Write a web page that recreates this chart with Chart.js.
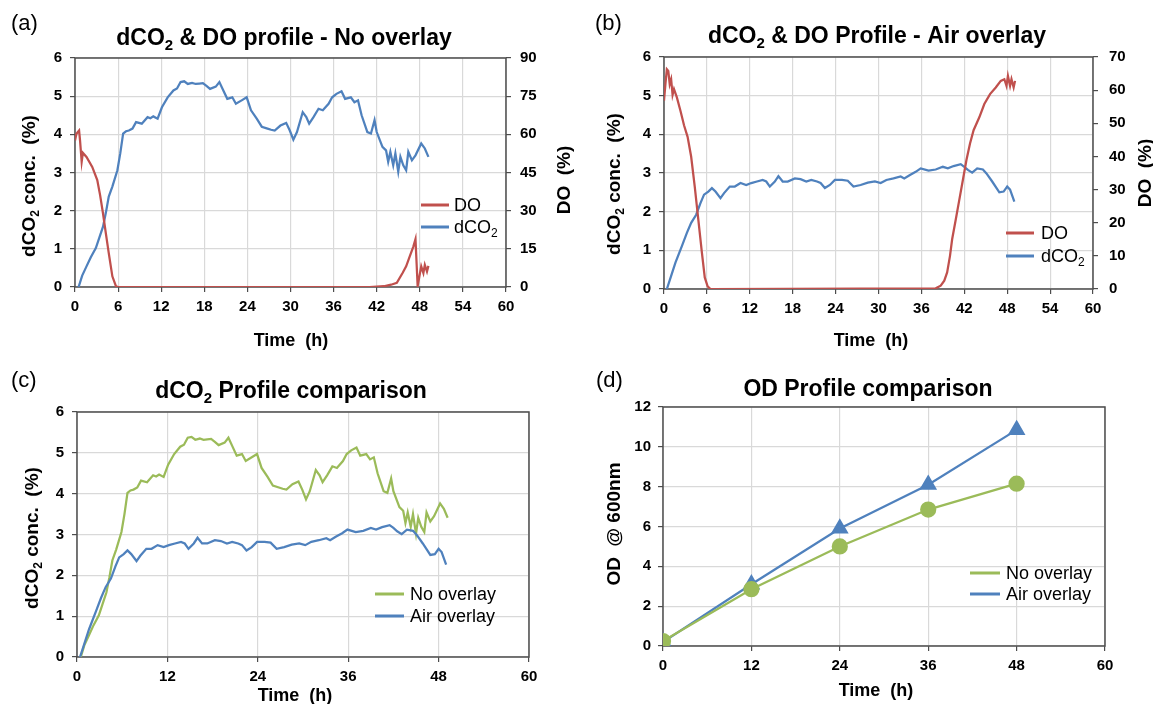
<!DOCTYPE html>
<html>
<head>
<meta charset="UTF-8">
<title>dCO2 / DO / OD profiles</title>
<script src="https://cdn.jsdelivr.net/npm/chart.js@4.4.1/dist/chart.umd.min.js"></script>
<style>
  body { margin: 0; background: #fff; }
  #wrap { position: relative; width: 1153px; height: 704px; overflow: hidden; }
  canvas { position: absolute; }
</style>
</head>
<body>
<div id="wrap">
  <canvas id="chA" width="580" height="352" style="left:0;top:0;width:580px;height:352px"></canvas>
  <canvas id="chB" width="573" height="352" style="left:580px;top:0;width:573px;height:352px"></canvas>
  <canvas id="chC" width="580" height="352" style="left:0;top:352px;width:580px;height:352px"></canvas>
  <canvas id="chD" width="573" height="352" style="left:580px;top:352px;width:573px;height:352px"></canvas>
</div>
<script>
// ---- data: [time (h), value] ----
// no overlay run: dCO2 (%) and DO (%)
var noOverlayCO2 = [[0.5,0],[1.0,0.3],[1.6,0.54],[2.2,0.78],[2.9,1.02],[3.4,1.3],[3.9,1.58],[4.3,1.95],
  [4.7,2.37],[5.2,2.63],[5.9,3.06],[6.3,3.5],[6.7,4.02],[7.1,4.08],[7.5,4.1],[8.0,4.15],[8.5,4.32],
  [9.3,4.28],[10.1,4.45],[10.5,4.42],[10.9,4.47],[11.5,4.41],[12.1,4.71],[12.9,4.97],[13.7,5.15],
  [14.2,5.2],[14.7,5.37],[15.2,5.39],[15.7,5.32],[16.3,5.35],[16.8,5.32],[17.3,5.33],[17.8,5.34],
  [18.3,5.27],[18.8,5.19],[19.6,5.25],[20.1,5.37],[20.6,5.17],[21.2,4.93],[21.9,4.97],[22.4,4.8],
  [23.2,4.89],[23.9,4.97],[24.5,4.63],[25.3,4.41],[26.0,4.2],[26.8,4.15],[27.3,4.12],[27.8,4.1],
  [28.6,4.23],[29.4,4.3],[29.9,4.1],[30.4,3.86],[30.9,4.06],[31.7,4.58],[32.2,4.45],[32.6,4.28],
  [33.2,4.45],[33.9,4.67],[34.5,4.63],[35.3,4.8],[35.8,4.97],[36.4,5.06],[37.1,5.13],[37.6,4.93],
  [38.4,4.97],[38.9,4.84],[39.4,4.89],[39.9,4.5],[40.7,4.06],[41.2,4.02],[41.7,4.37],[42.0,4.06],
  [42.8,3.67],[43.3,3.58],[43.6,3.28],[43.9,3.54],[44.3,3.19],[44.6,3.5],[45.0,3.02],[45.3,3.41],
  [45.7,3.19],[46.1,3.06],[46.4,3.54],[46.9,3.32],[47.4,3.45],[48.2,3.76],[48.7,3.63],[49.2,3.41]];
var noOverlayDO = [[0,57.6],[0.2,60.2],[0.4,60.9],[0.57,61.5],[0.7,57.6],[0.93,49.2],[1.1,52.7],
  [1.6,51.1],[2.4,47.2],[3.1,42],[3.5,36],[3.9,28.9],[4.3,21],[4.7,13.3],[5.2,4.2],[5.7,0.3],[6,0],
  [41,0],[43,0.3],[44,0.9],[44.8,1.6],[45.6,5.5],[46.1,8.1],[46.6,12],[47.1,15.9],[47.4,18.8],
  [47.7,0.3],[47.9,3.5],[48.2,8.1],[48.5,5.5],[48.7,8.7],[49.0,6.1],[49.2,8.3]];

// air overlay run: dCO2 (%) and DO (%)
var airOverlayCO2 = [[0.4,0],[1.0,0.34],[1.6,0.68],[2.5,1.11],[3.2,1.45],[3.8,1.71],[4.5,1.92],
  [5.1,2.22],[5.6,2.44],[6.2,2.52],[6.7,2.61],[7.2,2.52],[7.9,2.35],[8.4,2.48],[9.2,2.65],[9.9,2.65],
  [10.7,2.74],[11.5,2.69],[12.2,2.74],[13.0,2.78],[13.8,2.82],[14.3,2.78],[14.8,2.65],[15.5,2.78],
  [16.0,2.92],[16.6,2.78],[17.3,2.78],[18.3,2.86],[19.1,2.84],[19.9,2.78],[20.6,2.82],[21.4,2.78],
  [21.9,2.74],[22.5,2.61],[23.2,2.69],[23.9,2.82],[24.9,2.82],[25.7,2.8],[26.5,2.65],[27.5,2.69],
  [28.5,2.75],[29.5,2.78],[30.3,2.74],[31.1,2.82],[32.1,2.86],[33.1,2.91],[33.6,2.86],[34.4,2.95],
  [35.2,3.03],[35.9,3.12],[37.0,3.06],[38.0,3.09],[39.0,3.16],[39.7,3.12],[40.5,3.18],[41.5,3.23],
  [42.0,3.16],[42.5,3.08],[43.1,3.01],[43.8,3.12],[44.6,3.09],[45.1,2.99],[45.9,2.78],[46.9,2.5],
  [47.5,2.52],[48.0,2.65],[48.4,2.57],[49.0,2.26]];
var airOverlayDO = [[0,56.8],[0.2,61.8],[0.4,66.3],[0.6,65.8],[0.8,61.8],[1.0,63.3],[1.2,58.6],
  [1.4,60.3],[1.8,57.8],[2.3,53.8],[2.8,49.4],[3.3,45.9],[3.8,39.9],[4.3,30.9],[4.8,20.9],[5.3,11],
  [5.7,3.5],[6.1,0.8],[6.5,0],[38,0.2],[38.7,1],[39.2,2.5],[39.6,5],[40.0,10],[40.3,15],[40.8,20.9],
  [41.3,26.9],[41.8,32.9],[42.3,38.9],[42.8,43.9],[43.3,47.9],[44.1,51.8],[44.8,55.8],[45.6,58.8],
  [46.4,60.8],[47.1,62.8],[47.6,63.3],[47.9,61.3],[48.1,64.3],[48.4,61.3],[48.6,63.3],[48.9,60.8],
  [49.1,62.8]];

// OD @ 600nm samples
var odTime = [0, 12, 24, 36, 48];
var odNoOverlay = [0.25, 2.85, 5.0, 6.85, 8.15];
var odAirOverlay = [0.2, 3.1, 5.9, 8.1, 10.85];

// ---- styling ----
var FONT = '"Liberation Sans", Arial, sans-serif';
var RED = '#C0504D', BLUE = '#4F81BD', GREEN = '#9BBB59';
var GRID = '#d9d9d9', AXIS = '#4d4d4d';

function xy(pairs) { return pairs.map(function (p) { return {x: p[0], y: p[1]}; }); }
function zip(xs, ys) { return xs.map(function (x, i) { return {x: x, y: ys[i]}; }); }

function tickFont() { return {family: FONT, size: 15, weight: 'bold'}; }

function xAxis(step, h) {
  return {
    type: 'linear', position: 'bottom', min: 0, max: 60,
    ticks: {stepSize: step, autoSkip: false, maxRotation: 0, color: '#000', padding: 6, font: tickFont()},
    grid: {color: GRID, lineWidth: 1.2, tickColor: AXIS, tickLength: 5},
    border: {display: false},
    afterFit: function (s) { s.height = h; }
  };
}
function yAxis(pos, max, step, w, pad, onArea) {
  return {
    type: 'linear', position: pos, min: 0, max: max,
    ticks: {stepSize: step, color: '#000', padding: pad, font: tickFont()},
    grid: {color: GRID, lineWidth: 1.2, tickColor: AXIS, tickLength: 5, drawOnChartArea: onArea},
    border: {display: false},
    afterFit: function (s) { s.width = w; }
  };
}

function fontStr(size, weight) { return weight + ' ' + size + 'px ' + FONT; }

// parts: [[text], [text, isSub], ...]
function drawRich(ctx, parts, x, y, size, weight, align, rot) {
  var sub = Math.round(size * 0.65), w = 0;
  parts.forEach(function (p) {
    ctx.font = fontStr(p[1] ? sub : size, weight);
    w += ctx.measureText(p[0]).width;
  });
  ctx.save();
  ctx.translate(x, y);
  if (rot) ctx.rotate(rot);
  ctx.textAlign = 'left';
  ctx.textBaseline = 'alphabetic';
  ctx.fillStyle = '#000';
  var cx = align === 'left' ? 0 : -w / 2;
  parts.forEach(function (p) {
    ctx.font = fontStr(p[1] ? sub : size, weight);
    ctx.fillText(p[0], cx, size * 0.36 + (p[1] ? size * 0.22 : 0));
    cx += ctx.measureText(p[0]).width;
  });
  ctx.restore();
}

// frame + texts + legend, given in page coordinates
function deco(cfg) {
  return {
    id: 'deco',
    beforeDatasetsDraw: function (chart) {
      var a = chart.chartArea, ctx = chart.ctx;
      ctx.save();
      ctx.strokeStyle = AXIS;
      ctx.lineWidth = 1.5;
      ctx.strokeRect(a.left, a.top, a.right - a.left, a.bottom - a.top);
      ctx.restore();
    },
    afterDraw: function (chart) {
      var ctx = chart.ctx, ox = cfg.ox, oy = cfg.oy;
      cfg.texts.forEach(function (t) {
        drawRich(ctx, t.parts, t.x - ox, t.y - oy, t.size, t.weight || 'bold', t.align, t.rot);
      });
      var L = cfg.legend;
      L.items.forEach(function (it, i) {
        var y = L.y[i] - oy;
        ctx.save();
        ctx.strokeStyle = it.color;
        ctx.lineWidth = 3;
        ctx.beginPath();
        ctx.moveTo(L.x1 - ox, y);
        ctx.lineTo(L.x2 - ox, y);
        ctx.stroke();
        ctx.restore();
        drawRich(ctx, it.parts, L.tx - ox, y, 18, 'normal', 'left');
      });
    }
  };
}

function lineSet(label, data, color, axis) {
  return {label: label, data: data, yAxisID: axis || 'y', borderColor: color, backgroundColor: color,
    borderWidth: 2.25, pointRadius: 0, tension: 0, fill: false};
}

function baseOptions(pad) {
  return {
    responsive: false, animation: false, events: [],
    layout: {padding: pad},
    plugins: {legend: {display: false}, title: {display: false}, tooltip: {enabled: false}}
  };
}

var CO2 = [['dCO'], ['2', 1]];

// (a) no overlay
var optA = baseOptions({top: 58, left: 0, right: 0, bottom: 0});
optA.scales = {x: xAxis(6, 65), y: yAxis('left', 6, 1, 75, 8, true), y2: yAxis('right', 90, 15, 74, 9, false)};
new Chart(document.getElementById('chA'), {
  type: 'line',
  data: {datasets: [lineSet('DO', xy(noOverlayDO), RED, 'y2'), lineSet('dCO2', xy(noOverlayCO2), BLUE)]},
  options: optA,
  plugins: [deco({
    ox: 0, oy: 0,
    texts: [
      {parts: [['(a)']], x: 11, y: 22, size: 22, weight: 'normal', align: 'left'},
      {parts: CO2.concat([[' & DO profile - No overlay']]), x: 284, y: 37, size: 23},
      {parts: CO2.concat([[' conc.  (%)']]), x: 28, y: 186, size: 19, rot: -Math.PI / 2},
      {parts: [['DO  (%)']], x: 563, y: 180, size: 19, rot: -Math.PI / 2},
      {parts: [['Time  (h)']], x: 291, y: 340, size: 18}
    ],
    legend: {x1: 421, x2: 449, tx: 454, y: [205, 227],
      items: [{color: RED, parts: [['DO']]}, {color: BLUE, parts: CO2}]}
  })]
});

// (b) air overlay
var optB = baseOptions({top: 57, left: 0, right: 0, bottom: 0});
optB.scales = {x: xAxis(6, 63), y: yAxis('left', 6, 1, 84, 8, true), y2: yAxis('right', 70, 10, 60, 11, false)};
new Chart(document.getElementById('chB'), {
  type: 'line',
  data: {datasets: [lineSet('DO', xy(airOverlayDO), RED, 'y2'), lineSet('dCO2', xy(airOverlayCO2), BLUE)]},
  options: optB,
  plugins: [deco({
    ox: 580, oy: 0,
    texts: [
      {parts: [['(b)']], x: 595, y: 22, size: 22, weight: 'normal', align: 'left'},
      {parts: CO2.concat([[' & DO Profile - Air overlay']]), x: 877, y: 35, size: 23},
      {parts: CO2.concat([[' conc.  (%)']]), x: 613, y: 184, size: 19, rot: -Math.PI / 2},
      {parts: [['DO  (%)']], x: 1144, y: 173, size: 19, rot: -Math.PI / 2},
      {parts: [['Time  (h)']], x: 871, y: 340, size: 18}
    ],
    legend: {x1: 1006, x2: 1034, tx: 1041, y: [233, 256],
      items: [{color: RED, parts: [['DO']]}, {color: BLUE, parts: CO2}]}
  })]
});

// (c) dCO2 comparison
var optC = baseOptions({top: 60, left: 0, right: 51, bottom: 0});
optC.scales = {x: xAxis(12, 47), y: yAxis('left', 6, 1, 77, 8, true)};
new Chart(document.getElementById('chC'), {
  type: 'line',
  data: {datasets: [lineSet('Air overlay', xy(airOverlayCO2), BLUE), lineSet('No overlay', xy(noOverlayCO2), GREEN)]},
  options: optC,
  plugins: [deco({
    ox: 0, oy: 352,
    texts: [
      {parts: [['(c)']], x: 11, y: 379, size: 22, weight: 'normal', align: 'left'},
      {parts: CO2.concat([[' Profile comparison']]), x: 291, y: 390, size: 23},
      {parts: CO2.concat([[' conc.  (%)']]), x: 31, y: 538, size: 19, rot: -Math.PI / 2},
      {parts: [['Time  (h)']], x: 295, y: 695, size: 18}
    ],
    legend: {x1: 375, x2: 404, tx: 410, y: [594, 616],
      items: [{color: GREEN, parts: [['No overlay']]}, {color: BLUE, parts: [['Air overlay']]}]}
  })]
});

// (d) OD comparison
var optD = baseOptions({top: 55, left: 0, right: 48, bottom: 0});
optD.scales = {x: xAxis(12, 58), y: yAxis('left', 12, 2, 83, 7, true)};
new Chart(document.getElementById('chD'), {
  type: 'line',
  data: {datasets: [
    {label: 'No overlay', data: zip(odTime, odNoOverlay), borderColor: GREEN, backgroundColor: GREEN,
      borderWidth: 2.25, pointStyle: 'circle', pointRadius: 7, tension: 0},
    {label: 'Air overlay', data: zip(odTime, odAirOverlay), borderColor: BLUE, backgroundColor: BLUE,
      borderWidth: 2.25, pointStyle: 'triangle', pointRadius: 8, tension: 0}
  ]},
  options: optD,
  plugins: [deco({
    ox: 580, oy: 352,
    texts: [
      {parts: [['(d)']], x: 596, y: 379, size: 22, weight: 'normal', align: 'left'},
      {parts: [['OD Profile comparison']], x: 868, y: 388, size: 23},
      {parts: [['OD  @ 600nm']], x: 613, y: 524, size: 19, rot: -Math.PI / 2},
      {parts: [['Time  (h)']], x: 876, y: 690, size: 18}
    ],
    legend: {x1: 970, x2: 1000, tx: 1006, y: [573, 594],
      items: [{color: GREEN, parts: [['No overlay']]}, {color: BLUE, parts: [['Air overlay']]}]}
  })]
});
</script>
</body>
</html>
